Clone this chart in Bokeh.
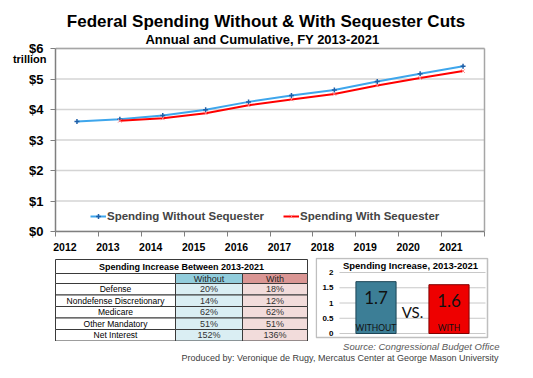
from bokeh.plotting import figure
from bokeh.models import (Range1d, FixedTicker, NumeralTickFormatter, Legend, LegendItem,
                          Label, LinearAxis)
from bokeh.layouts import column, row
from bokeh.embed import file_html
from bokeh.resources import INLINE
from bokeh.core.properties import value

# ---------------- data ----------------
years = [2012, 2013, 2014, 2015, 2016, 2017, 2018, 2019, 2020, 2021]
without_seq = [3.61, 3.68, 3.80, 3.99, 4.25, 4.46, 4.64, 4.92, 5.17, 5.42]
with_years = [2013, 2014, 2015, 2016, 2017, 2018, 2019, 2020, 2021]
with_seq = [3.63, 3.71, 3.88, 4.14, 4.33, 4.51, 4.79, 5.03, 5.26]
y_ticks = [0, 1, 2, 3, 4, 5, 6]

table_title = "Spending Increase Between 2013-2021"
table_header = ["", "Without", "With"]
table_rows = ["Defense", "Nondefense Discretionary", "Medicare", "Other Mandatory", "Net Interest"]
table_without = ["20%", "14%", "62%", "51%", "152%"]
table_with = ["18%", "12%", "62%", "51%", "136%"]

bar_title = "Spending Increase, 2013-2021"
bar_cats = ["WITHOUT", "WITH"]
bar_vals = [1.7, 1.6]
bar_labels = ["1.7", "1.6"]
bar_ticks = [0, 0.5, 1, 1.5, 2]

FONT = "Liberation Sans"
BORDER = "#A6A6A6"


def bare(fig):
    fig.grid.visible = False
    fig.outline_line_color = None


# ---------------- main line chart (frame spans to the top and right edge) ----------------
px_year = 42.9
y_top = y_ticks[-1] * 231 / 183.0
x0, x1 = years[0] - 0.5, years[-1] + 0.5
p = figure(width=533, height=257, x_range=Range1d(x0, x1 + 49 / px_year), y_range=Range1d(0, y_top),
           output_backend="svg", toolbar_location=None, title=None, title_location=None,
           min_border_left=55, min_border_right=0, min_border_top=0, min_border_bottom=26)
p.background_fill_color = "white"
p.outline_line_color = None

lab_ticks = [round(y - 0.28, 2) for y in years]
p.xaxis.ticker = FixedTicker(ticks=lab_ticks, minor_ticks=[y - 0.5 for y in years] + [x1])
p.xaxis.major_label_overrides = {t: str(y) for t, y in zip(lab_ticks, years)}
p.xaxis.bounds = (x0, x1)
p.xaxis.major_tick_out = 0
p.xaxis.major_tick_in = 0
p.xaxis.minor_tick_out = 5
p.xaxis.minor_tick_in = 0
p.xaxis.minor_tick_line_color = "#7F7F7F"
p.xaxis.axis_line_color = "#7F7F7F"
p.xaxis.axis_line_width = 1.5
p.xaxis.major_label_standoff = 6
p.xaxis.major_label_text_font = FONT
p.xaxis.major_label_text_font_style = "bold"
p.xaxis.major_label_text_font_size = "10.5px"
p.xaxis.major_label_text_color = "black"

p.yaxis.ticker = FixedTicker(ticks=y_ticks)
p.yaxis.bounds = (y_ticks[0], y_ticks[-1])
p.yaxis.formatter = NumeralTickFormatter(format="$0")
p.yaxis.major_tick_out = 5
p.yaxis.major_tick_in = 0
p.yaxis.minor_tick_line_color = None
p.yaxis.major_tick_line_color = "#7F7F7F"
p.yaxis.axis_line_color = "#7F7F7F"
p.yaxis.axis_line_width = 1.5
p.yaxis.major_label_standoff = 7
p.yaxis.major_label_text_font = FONT
p.yaxis.major_label_text_font_style = "bold"
p.yaxis.major_label_text_font_size = "13px"
p.yaxis.major_label_text_color = "black"

# unit label "trillion" as a second left axis, just under "$6"
unit_pos = 5.66
unit_axis = LinearAxis(ticker=FixedTicker(ticks=[unit_pos]), major_label_overrides={unit_pos: "trillion"},
                       axis_line_color=None, major_tick_line_color=None, minor_tick_line_color=None,
                       major_tick_out=0, major_tick_in=0, major_label_standoff=-20,
                       major_label_text_font=FONT, major_label_text_font_style="bold",
                       major_label_text_font_size="11px", major_label_text_color="black")
p.add_layout(unit_axis, "left")

p.xgrid.visible = False
p.ygrid.visible = False
# horizontal gridlines limited to the plot area
p.segment(x0=[x0] * len(y_ticks), y0=y_ticks, x1=[x1] * len(y_ticks), y1=y_ticks,
          line_color="#D4D4D4", line_width=1.5)
# plot-area border (top and right)
p.segment(x0=[x0, x1], y0=[y_ticks[-1], y_ticks[0]], x1=[x1, x1], y1=[y_ticks[-1], y_ticks[-1]],
          line_color=BORDER, line_width=1.5)

lb = p.line(years, without_seq, line_color="#3EA6EC", line_width=2)
sb = p.scatter(years, without_seq, marker="cross", size=5, line_color="#1F5FA8", line_width=1.5)
lr = p.line(with_years, with_seq, line_color="#FF0000", line_width=2)
sr = p.scatter(with_years, with_seq, marker="x", size=5, line_color="#FF8080", line_width=1)

leg = Legend(items=[LegendItem(label="Spending Without Sequester", renderers=[lb, sb]),
                    LegendItem(label="Spending With Sequester", renderers=[lr, sr])],
             location=(35, 8), orientation="horizontal", spacing=19, padding=0, margin=0,
             glyph_width=16, glyph_height=12, label_standoff=1, label_height=14,
             label_text_font=FONT, label_text_font_style="bold", label_text_font_size="11.5px",
             border_line_color=None, background_fill_alpha=0)
p.add_layout(leg)

p.add_layout(Label(x=210.5, y=210, x_units="screen", y_units="screen",
                   text="Federal Spending Without & With Sequester Cuts",
                   text_align="center", text_baseline="middle", text_font=FONT,
                   text_font_style="bold", text_font_size="17px", text_color="black"))
p.add_layout(Label(x=207, y=192.5, x_units="screen", y_units="screen",
                   text="Annual and Cumulative, FY 2013-2021",
                   text_align="center", text_baseline="middle", text_font=FONT,
                   text_font_style="bold", text_font_size="13px", text_color="black"))

# ---------------- table ----------------
t = figure(width=311, height=84, x_range=Range1d(0, 311), y_range=Range1d(341, 257),
           output_backend="svg", toolbar_location=None, title=None, title_location=None,
           x_axis_location=None, y_axis_location=None,
           min_border_left=0, min_border_right=0, min_border_top=0, min_border_bottom=0)
bare(t)

col_edges = [55, 175, 242, 307]
row_edges = [259, 273, 283, 294.5, 306, 317.5, 329, 340.5]
LINE = "#3A3A3A"

t.quad(left=[col_edges[0]], right=[col_edges[-1]], top=[row_edges[0]], bottom=[row_edges[1]],
       fill_color="white", line_color=LINE, line_width=1)
t.text(x=[(col_edges[0] + col_edges[-1]) / 2], y=[(row_edges[0] + row_edges[1]) / 2],
       text=[table_title], text_align="center", text_baseline="middle",
       text_font=value(FONT), text_font_style="bold", text_font_size="9px", text_color="black")

hdr_fill = ["white", "#92CDDC", "#DA9694"]
t.quad(left=col_edges[:-1], right=col_edges[1:], top=[row_edges[1]] * 3, bottom=[row_edges[2]] * 3,
       fill_color=hdr_fill, line_color=LINE, line_width=1)
t.text(x=[(col_edges[i] + col_edges[i + 1]) / 2 for i in range(3)],
       y=[(row_edges[1] + row_edges[2]) / 2] * 3, text=table_header,
       text_align="center", text_baseline="middle", text_font=value(FONT),
       text_font_size="9px", text_color="#222222")

body_fill = ["white", "#DAEEF3", "#F2DCDB"]
for r, (lab, wo, wi) in enumerate(zip(table_rows, table_without, table_with)):
    top_e = row_edges[2 + r]
    bot_e = row_edges[3 + r]
    t.quad(left=col_edges[:-1], right=col_edges[1:], top=[top_e] * 3, bottom=[bot_e] * 3,
           fill_color=body_fill, line_color=LINE, line_width=1)
    cy = (top_e + bot_e) / 2
    t.text(x=[(col_edges[0] + col_edges[1]) / 2], y=[cy], text=[lab],
           text_align="center", text_baseline="middle", text_font=value(FONT),
           text_font_size="8.5px", text_color="black")
    t.text(x=[(col_edges[1] + col_edges[2]) / 2, (col_edges[2] + col_edges[3]) / 2], y=[cy, cy],
           text=[wo, wi], text_align="center", text_baseline="middle", text_font=value(FONT),
           text_font_size="9px", text_color="#333333")

# ---------------- bar chart ----------------
n = len(bar_cats)
px_x = 73.0     # pixels per category
px_y = 30.5     # pixels per unit
b = figure(width=222, height=84,
           x_range=Range1d(-24 / px_x, n + 48 / px_x),
           y_range=Range1d(-8 / px_y, bar_ticks[-1] + 15 / px_y),
           output_backend="svg", toolbar_location=None, title=None, title_location=None,
           x_axis_location=None,
           min_border_left=4, min_border_right=0, min_border_top=0, min_border_bottom=0)
b.grid.visible = False
b.outline_line_color = None
b.yaxis.ticker = FixedTicker(ticks=bar_ticks)
b.yaxis.formatter = NumeralTickFormatter(format="0.[0]")
b.yaxis.axis_line_color = None
b.yaxis.major_tick_line_color = None
b.yaxis.minor_tick_line_color = None
b.yaxis.major_tick_out = 0
b.yaxis.major_tick_in = 0
b.yaxis.major_label_standoff = -18
b.yaxis.major_label_text_font = FONT
b.yaxis.major_label_text_font_style = "bold"
b.yaxis.major_label_text_font_size = "8px"
b.yaxis.major_label_text_color = "black"

# grey box around the small chart
b.quad(left=[-23.2 / px_x], right=[n + 2 / px_x], bottom=[-4 / px_y], top=[bar_ticks[-1] + 14 / px_y],
       fill_color=None, line_color="#BFBFBF", line_width=1.5)

bx = [i + 0.5 for i in range(n)]
b.segment(x0=[0] * len(bar_ticks), y0=bar_ticks, x1=[n] * len(bar_ticks), y1=bar_ticks,
          line_color="#C8C8C8", line_width=1)
b.vbar(x=bx, top=bar_vals, width=0.55, fill_color=["#3C7E96", "#EE0000"],
       line_color=["#1D4556", "#7F0000"], line_width=1)
b.text(x=bx, y=bar_vals, text=bar_labels, y_offset=16, text_align="center",
       text_baseline="middle", text_font=value("Lato"), text_font_size="17px", text_color="#111111")
b.text(x=bx, y=[0] * n, text=bar_cats, y_offset=-6, text_align="center",
       text_baseline="middle", text_font=value("Lato"), text_font_size="8.5px", text_color="#111111")
b.add_layout(Label(x=n / 2, y=0.72, text="VS.", text_align="center", text_baseline="middle",
                   text_font="Lato", text_font_size="15px", text_color="#111111"))
b.add_layout(Label(x=95, y=76, x_units="screen", y_units="screen", text=bar_title,
                   text_align="center", text_baseline="middle", text_font=FONT,
                   text_font_style="bold", text_font_size="9.5px", text_color="black"))

# ---------------- footer ----------------
f = figure(width=533, height=37, x_range=Range1d(0, 533), y_range=Range1d(378, 341),
           output_backend="svg", toolbar_location=None, title=None, title_location=None,
           x_axis_location=None, y_axis_location=None,
           min_border_left=0, min_border_right=0, min_border_top=0, min_border_bottom=0)
bare(f)
f.add_layout(Label(x=495, y=346, text="Source: Congressional Budget Office", text_align="right",
                   text_baseline="middle", text_font=FONT, text_font_style="italic",
                   text_font_size="9.5px", text_color="#595959"))
f.add_layout(Label(x=494, y=357, text="Produced by: Veronique de Rugy, Mercatus Center at George Mason University",
                   text_align="right", text_baseline="middle", text_font=FONT,
                   text_font_size="9px", text_color="#404040"))

layout = column(p, row(t, b), f)
open("out.html", "w").write(file_html(layout, INLINE))
